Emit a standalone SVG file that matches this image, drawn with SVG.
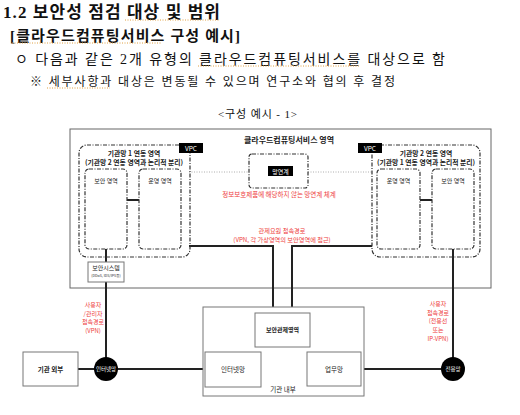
<svg xmlns="http://www.w3.org/2000/svg" width="520" height="415" viewBox="0 0 520 415">
<style>
.hd{font-family:"Liberation Serif","Noto Sans CJK KR",serif;fill:#111}
.t{font-family:"Noto Sans CJK KR","Noto Sans",sans-serif;fill:#222;text-anchor:middle}
.b{font-weight:bold}
.red{fill:#ee3b3b}
.wt{fill:#fff}
.box{fill:#fff;stroke:#666;stroke-width:1}
.gbox{fill:#fff;stroke:#777;stroke-width:1}
.dd{fill:none;stroke:#333;stroke-width:1.2;stroke-dasharray:4 1.5 1 1.5}
.ul{stroke:#e0a040;stroke-width:1;stroke-dasharray:1 1.5}
.thick{fill:none;stroke:#222;stroke-width:2}
.dot{fill:none;stroke:#999;stroke-width:0.8;stroke-dasharray:1 1.5}
</style>
<rect width="520" height="415" fill="#fff"/>
<g id="header">
<text class="hd b" x="3" y="18" font-size="17" textLength="217" lengthAdjust="spacing">1.2 보안성 점검 대상 및 범위</text>
<text class="hd b" x="10" y="41" font-size="15" textLength="230" lengthAdjust="spacing">[클라우드컴퓨팅서비스 구성 예시]</text>
<text class="hd" x="15" y="64" font-size="14" textLength="430" lengthAdjust="spacing">ㅇ 다음과 같은 2개 유형의 클라우드컴퓨팅서비스를 대상으로 함</text>
<text class="hd" x="30" y="86" font-size="12" textLength="365" lengthAdjust="spacing">※ 세부사항과 대상은 변동될 수 있으며 연구소와 협의 후 결정</text>
<line class="ul" x1="125" y1="20" x2="220" y2="20"/>
<line class="ul" x1="12" y1="43" x2="162" y2="43"/>
<line class="ul" x1="198" y1="66" x2="360" y2="66"/>
<line class="ul" x1="47" y1="88" x2="110" y2="88"/>
<text class="hd" x="218" y="118" font-size="11" textLength="79" lengthAdjust="spacing">&lt;구성 예시 - 1&gt;</text>
</g>
<g id="cloud">
<rect class="box" x="70" y="129" width="421" height="159"/>
<text class="t b" x="289" y="143" font-size="8">클라우드컴퓨팅서비스 영역</text>
</g>
<g id="connectors">
<line class="dot" x1="189" y1="172" x2="249" y2="172"/>
<line class="dot" x1="308" y1="172" x2="372" y2="172"/>
<path class="thick" d="M189,246 H273 V313"/>
<path class="thick" d="M372,246 H292 V313"/>
<path class="thick" d="M127,200 H139"/>
<path class="thick" d="M420,200 H432"/>
<path class="thick" d="M106,249 V369"/>
<path class="thick" d="M453,249 V369"/>
<path class="thick" d="M78,369 H205"/>
<path class="thick" d="M361,369 H453"/>
</g>
<g id="vpc1">
<rect class="dd" x="79" y="145" width="111" height="112" rx="8"/>
<rect x="179" y="143" width="24" height="10" fill="#000"/>
<text class="t wt" x="191" y="150.5" font-size="6.5">VPC</text>
<text class="t b" x="134" y="156" font-size="6.8">기관망 1 연동 영역</text>
<text class="t b" x="134" y="165" font-size="6.8">(기관망 2 연동 영역과 논리적 분리)</text>
</g>
<g id="sec1">
<rect class="dd" x="85" y="169" width="42" height="80" rx="4"/>
<text class="t" x="106" y="183" font-size="6">보안 영역</text>
</g>
<g id="op1">
<rect class="dd" x="139" y="169" width="42" height="80" rx="4"/>
<text class="t" x="160" y="183" font-size="6">운영 영역</text>
</g>
<g id="netlink">
<rect class="dd" x="249" y="154" width="59" height="34" rx="3"/>
<rect x="268" y="166" width="25" height="10" fill="#000"/>
<text class="t wt" x="280.5" y="173.5" font-size="6">망연계</text>
<text class="t red" x="279" y="197" font-size="6.5">정보보호제품에 해당하지 않는 망연계 체계</text>
</g>
<g id="ctrl-label">
<text class="t red" x="282" y="232.5" font-size="6.2">관제요원 접속경로</text>
<text class="t red" x="282" y="241.5" font-size="6.2">(VPN, 각 가상영역의 보안영역에 접근)</text>
</g>
<g id="vpc2">
<rect class="dd" x="372" y="145" width="108" height="112" rx="8"/>
<rect x="358" y="143" width="24" height="10" fill="#000"/>
<text class="t wt" x="370" y="150.5" font-size="6.5">VPC</text>
<text class="t b" x="426" y="156" font-size="6.8">기관망 2 연동 영역</text>
<text class="t b" x="426" y="165" font-size="6.8">(기관망 1 연동 영역과 논리적 분리)</text>
</g>
<g id="op2">
<rect class="dd" x="377" y="169" width="43" height="80" rx="4"/>
<text class="t" x="398.5" y="183" font-size="6">운영 영역</text>
</g>
<g id="sec2">
<rect class="dd" x="432" y="169" width="42" height="80" rx="4"/>
<text class="t" x="453" y="183" font-size="6">보안 영역</text>
</g>
<g id="secsys">
<rect class="gbox" x="88" y="262" width="36" height="20"/>
<text class="t" x="106" y="270" font-size="6">보안시스템</text>
<text class="t" x="106" y="277" font-size="3.6">(DDoS, IDS/IPS등)</text>
</g>
<g id="label-left">
<text class="t red" x="93" y="307" font-size="6">사용자</text>
<text class="t red" x="93" y="315.7" font-size="6">/관리자</text>
<text class="t red" x="93" y="324.4" font-size="6">접속경로</text>
<text class="t red" x="93" y="333.1" font-size="6">(VPN)</text>
</g>
<g id="label-right">
<text class="t red" x="438" y="306" font-size="6">사용자</text>
<text class="t red" x="438" y="314.7" font-size="6">접속경로</text>
<text class="t red" x="438" y="323.4" font-size="6">(전용선</text>
<text class="t red" x="438" y="332.1" font-size="6">또는</text>
<text class="t red" x="438" y="340.8" font-size="6">IP-VPN)</text>
</g>
<g id="outside">
<rect class="gbox" x="23" y="352" width="55" height="34"/>
<text class="t b" x="50.5" y="371.5" font-size="6.5">기관 외부</text>
</g>
<g id="internet">
<circle cx="106" cy="369" r="12" fill="#000"/>
<text class="t wt" x="106" y="371" font-size="5.5">인터넷망</text>
</g>
<g id="dedicated">
<circle cx="453" cy="369" r="12" fill="#000"/>
<text class="t wt" x="453" y="371" font-size="5.5">전용망</text>
</g>
<g id="inside">
<rect class="gbox" x="203" y="307" width="161" height="89"/>
<text class="t" x="283" y="392" font-size="6.5">기관 내부</text>
</g>
<g id="socarea">
<rect class="gbox" x="255" y="313" width="55" height="34"/>
<text class="t b" x="282.5" y="332" font-size="6">보안관제영역</text>
</g>
<g id="inet-net">
<rect class="gbox" x="205" y="352" width="56" height="35"/>
<text class="t" x="233" y="371.5" font-size="6.5">인터넷망</text>
</g>
<g id="biz-net">
<rect class="gbox" x="307" y="352" width="54" height="34"/>
<text class="t" x="334" y="371.5" font-size="6.5">업무망</text>
</g>
</svg>
